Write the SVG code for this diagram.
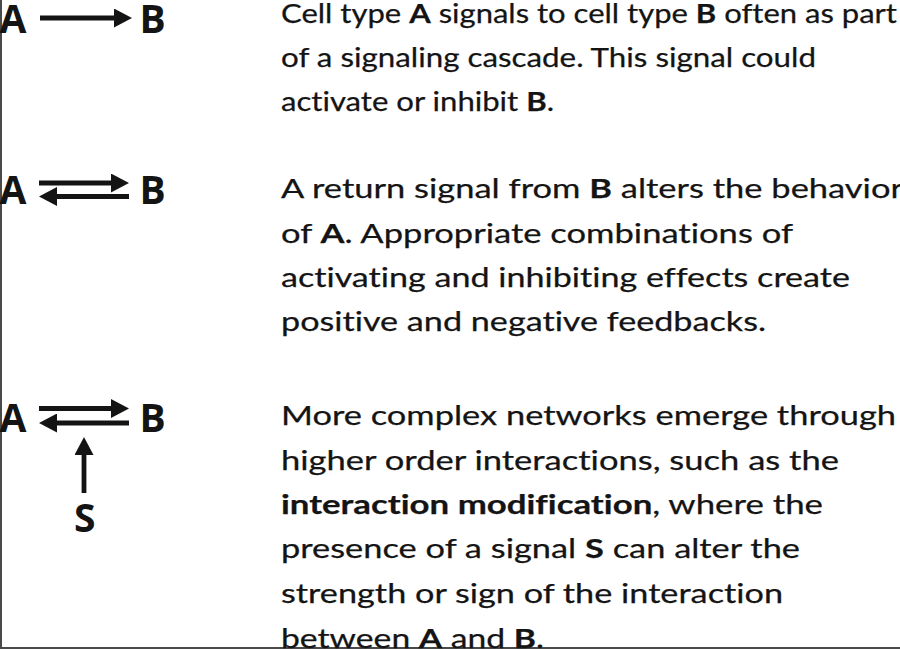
<svg xmlns="http://www.w3.org/2000/svg" width="900" height="649" viewBox="0 0 900 649">
  <style>
    .txt { font-family: Lato, "Open Sans", "Liberation Sans", sans-serif; font-size: 27.5px; fill: #141414; stroke: #141414; stroke-width: 0.25; font-variant-ligatures: none; }
    .b { font-weight: bold; }
    .node { font-family: "Open Sans", "Liberation Sans", sans-serif; font-size: 39px; font-weight: bold; fill: #141414; }
    .conn { stroke: #141414; stroke-width: 4.8; fill: none; marker-end: url(#head); }
    .frame { stroke: #4a4a4a; stroke-width: 2; fill: none; }
  </style>
  <defs>
    <marker id="head" markerUnits="userSpaceOnUse" markerWidth="18" markerHeight="19" refX="8" refY="9.5" orient="auto">
      <path d="M0,0 L18,9.5 L0,19 z" fill="#141414"/>
    </marker>
  </defs>
  <rect width="900" height="649" fill="#ffffff"/>
  <path class="frame" d="M1,0 V648 H900"/>

  <g id="connectors">
    <line class="conn" x1="40" y1="18" x2="122" y2="18"/>
    <line class="conn" x1="39" y1="183" x2="119" y2="183"/>
    <line class="conn" x1="129" y1="196.5" x2="49" y2="196.5"/>
    <line class="conn" x1="39" y1="408.5" x2="119" y2="408.5"/>
    <line class="conn" x1="129" y1="423" x2="49" y2="423"/>
    <line class="conn" x1="84" y1="493" x2="84" y2="447"/>
  </g>

  <g id="node-A1"><text class="node" x="-0.5" y="33">A</text></g>
  <g id="node-B1"><text class="node" x="139.5" y="33">B</text></g>
  <g id="node-A2"><text class="node" x="-0.5" y="204">A</text></g>
  <g id="node-B2"><text class="node" x="139.5" y="204">B</text></g>
  <g id="node-A3"><text class="node" x="-0.5" y="432">A</text></g>
  <g id="node-B3"><text class="node" x="139.5" y="432">B</text></g>
  <g id="node-S3"><text class="node" x="74" y="532">S</text></g>

  <g id="desc-1">
    <text class="txt" x="281" y="23" textLength="616" lengthAdjust="spacingAndGlyphs">Cell type <tspan class="b">A</tspan> signals to cell type <tspan class="b">B</tspan> often as part</text>
    <text class="txt" x="281" y="67" textLength="535" lengthAdjust="spacingAndGlyphs">of a signaling cascade. This signal could</text>
    <text class="txt" x="281" y="111" textLength="273" lengthAdjust="spacingAndGlyphs">activate or inhibit <tspan class="b">B</tspan>.</text>
  </g>

  <g id="desc-2">
    <text class="txt" x="281" y="198" textLength="622" lengthAdjust="spacingAndGlyphs">A return signal from <tspan class="b">B</tspan> alters the behavior</text>
    <text class="txt" x="281" y="242.5" textLength="512" lengthAdjust="spacingAndGlyphs">of <tspan class="b">A</tspan>. Appropriate combinations of</text>
    <text class="txt" x="281" y="287" textLength="569" lengthAdjust="spacingAndGlyphs">activating and inhibiting effects create</text>
    <text class="txt" x="281" y="331" textLength="485" lengthAdjust="spacingAndGlyphs">positive and negative feedbacks.</text>
  </g>

  <g id="desc-3">
    <text class="txt" x="281" y="425" textLength="615" lengthAdjust="spacingAndGlyphs">More complex networks emerge through</text>
    <text class="txt" x="281" y="470" textLength="558" lengthAdjust="spacingAndGlyphs">higher order interactions, such as the</text>
    <text class="txt" x="281" y="514" textLength="542" lengthAdjust="spacingAndGlyphs"><tspan class="b">interaction modification</tspan>, where the</text>
    <text class="txt" x="281" y="558" textLength="519" lengthAdjust="spacingAndGlyphs">presence of a signal <tspan class="b">S</tspan> can alter the</text>
    <text class="txt" x="281" y="603" textLength="502" lengthAdjust="spacingAndGlyphs">strength or sign of the interaction</text>
    <text class="txt" x="281" y="647.5" textLength="263" lengthAdjust="spacingAndGlyphs">between <tspan class="b">A</tspan> and <tspan class="b">B</tspan>.</text>
  </g>
</svg>
